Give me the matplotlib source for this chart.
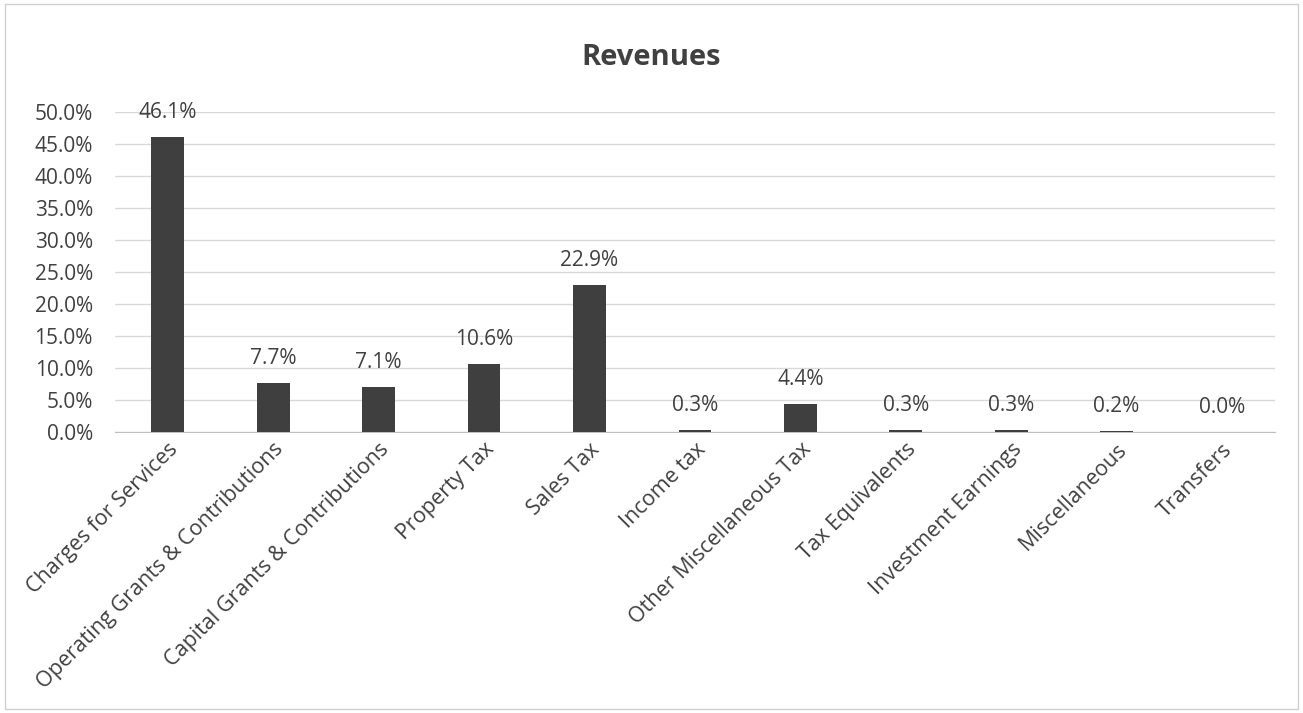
import numpy as np
import matplotlib.pyplot as plt
from matplotlib.ticker import PercentFormatter

categories = ["Charges for Services", "Operating Grants & Contributions",
              "Capital Grants & Contributions", "Property Tax", "Sales Tax",
              "Income tax", "Other Miscellaneous Tax", "Tax Equivalents",
              "Investment Earnings", "Miscellaneous", "Transfers"]
values = [46.1, 7.7, 7.1, 10.6, 22.9, 0.3, 4.4, 0.3, 0.3, 0.2, 0.0]
yticks = [0, 5, 10, 15, 20, 25, 30, 35, 40, 45, 50]

plt.rcParams['font.family'] = ['Open Sans', 'DejaVu Sans']
text_col = "#404040"

fig = plt.figure(figsize=(13.03, 7.13), dpi=100)
ax = fig.add_axes([0.0883, 0.394, 0.89, 0.449])

x = np.arange(len(categories))
ax.bar(x, values, width=0.31, color="#3f3f3f", zorder=3)
for xi, v in zip(x, values):
    ax.text(xi, v + 2.2, f"{v:.1f}%", ha="center", va="bottom",
            fontsize=15, color=text_col)

ax.set_xlim(-0.5, len(categories) - 0.5)
ax.set_ylim(0, 50)
ax.set_yticks(yticks)
ax.yaxis.set_major_formatter(PercentFormatter(decimals=1))
ax.set_xticks(x)
ax.set_xticklabels(categories, rotation=45, ha="right", rotation_mode="anchor",
                   fontsize=15.5, color=text_col)
ax.tick_params(axis="y", labelsize=15, labelcolor=text_col, length=0, pad=16)
ax.tick_params(axis="x", length=0, pad=5)
ax.grid(axis="y", color="#d9d9d9", linewidth=1, zorder=0)
for s in ["top", "right", "left"]:
    ax.spines[s].set_visible(False)
ax.spines["bottom"].set_color("#bfbfbf")

fig.text(0.5, 0.92, "Revenues", ha="center", va="center", fontsize=21,
         fontweight="bold", color=text_col)

border = plt.Rectangle((0.004, 0.006), 0.992, 0.988, transform=fig.transFigure,
                       fill=False, edgecolor="#d0d0d0", linewidth=1)
fig.patches.append(border)

fig.savefig("out.png", dpi=100)
